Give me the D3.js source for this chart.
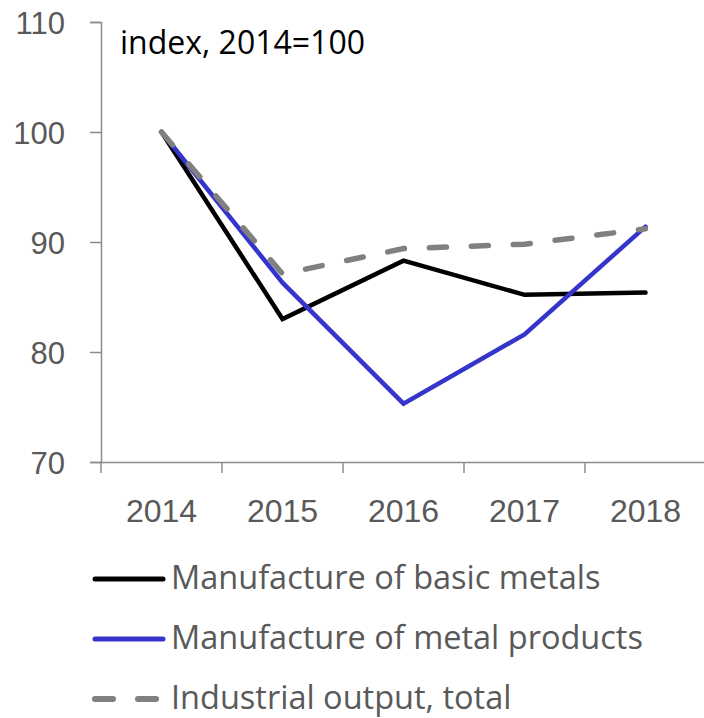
<!DOCTYPE html>
<html>
<head>
<meta charset="utf-8">
<script src="https://cdn.jsdelivr.net/npm/d3@7"></script>
<style>
  html, body { margin: 0; padding: 0; background: #fff; }
  svg { display: block; font-family: "Open Sans", "Liberation Sans", sans-serif; }
</style>
</head>
<body>
<svg id="chart" width="704" height="718"></svg>
<script>
// Annual indices, 2014 = 100
const years = ["2014", "2015", "2016", "2017", "2018"];
const basicMetals = [100, 83.0, 88.3, 85.2, 85.4];
const metalProducts = [100, 86.3, 75.3, 81.6, 91.4];
const industrialTotal = [100, 87.1, 89.4, 89.8, 91.2];
const yTicks = [70, 80, 90, 100, 110];

const series = [
  { name: "Manufacture of basic metals", values: basicMetals, color: "#000000", width: 4.5, dash: null, legendDash: null },
  { name: "Manufacture of metal products", values: metalProducts, color: "#3535cc", width: 4.5, dash: null, legendDash: null },
  { name: "Industrial output, total", values: industrialTotal, color: "#808080", width: 5.5, dash: "17,25", legendDash: "18,25" }
];

const svg = d3.select("#chart");
const plotLeft = 101, plotTop = 22, plotBottom = 462;
const bandW = 121;

const x = d3.scaleBand().domain(years).range([plotLeft, plotLeft + bandW * years.length]).paddingInner(0).paddingOuter(0);
const y = d3.scaleLinear().domain([70, 110]).range([plotBottom, plotTop]);

const axisColor = "#8c8c8c";
const labelColor = "#595959";

// Y axis
const yAxis = svg.append("g")
  .attr("transform", `translate(${plotLeft},0)`)
  .call(d3.axisLeft(y).tickValues(yTicks).tickSize(11).tickPadding(25).tickFormat(d3.format("d")));
yAxis.select(".domain").attr("stroke", axisColor).attr("stroke-width", 1.5);
yAxis.selectAll(".tick line").attr("stroke", axisColor).attr("stroke-width", 1.5);
yAxis.selectAll(".tick text").attr("fill", labelColor).attr("font-size", 31).attr("dy", "0.36em");

// X axis: separators between categories
const xAxis = svg.append("g")
  .attr("transform", `translate(0,${plotBottom})`)
  .call(d3.axisBottom(x).tickSize(0));
xAxis.select(".domain").attr("stroke", axisColor).attr("stroke-width", 1.5);
xAxis.selectAll(".tick text")
  .attr("fill", labelColor).attr("font-size", 32)
  .attr("y", 60).attr("dy", null);
const bounds = years.map(d => x(d)).concat([x(years[years.length - 1]) + x.bandwidth()]);
xAxis.selectAll(".sep").data(bounds).enter().append("line")
  .attr("class", "sep")
  .attr("x1", d => d).attr("x2", d => d)
  .attr("y1", 0).attr("y2", 11)
  .attr("stroke", axisColor).attr("stroke-width", 1.5);

// Unit note
svg.append("text")
  .attr("x", 120).attr("y", 54)
  .attr("font-size", 32).attr("fill", "#000")
  .text("index, 2014=100");

// Lines
const line = d3.line()
  .x((d, i) => x(years[i]) + x.bandwidth() / 2)
  .y(d => y(d));

series.forEach(s => {
  svg.append("path")
    .datum(s.values)
    .attr("d", line)
    .attr("fill", "none")
    .attr("stroke", s.color)
    .attr("stroke-width", s.width)
    .attr("stroke-linejoin", "miter")
    .attr("stroke-linecap", "round")
    .attr("stroke-dasharray", s.dash);
});

// Legend
const legend = svg.append("g");
series.forEach((s, i) => {
  const ly = 579 + i * 60;
  legend.append("line")
    .attr("x1", 95).attr("x2", s.legendDash ? 156 : 163)
    .attr("y1", ly).attr("y2", ly)
    .attr("stroke", s.color)
    .attr("stroke-width", s.width + 0.5)
    .attr("stroke-linecap", "round")
    .attr("stroke-dasharray", s.legendDash);
  legend.append("text")
    .attr("x", 171).attr("y", ly + 9.5)
    .attr("font-size", 32.5)
    .attr("fill", labelColor)
    .text(s.name);
});
</script>
</body>
</html>
